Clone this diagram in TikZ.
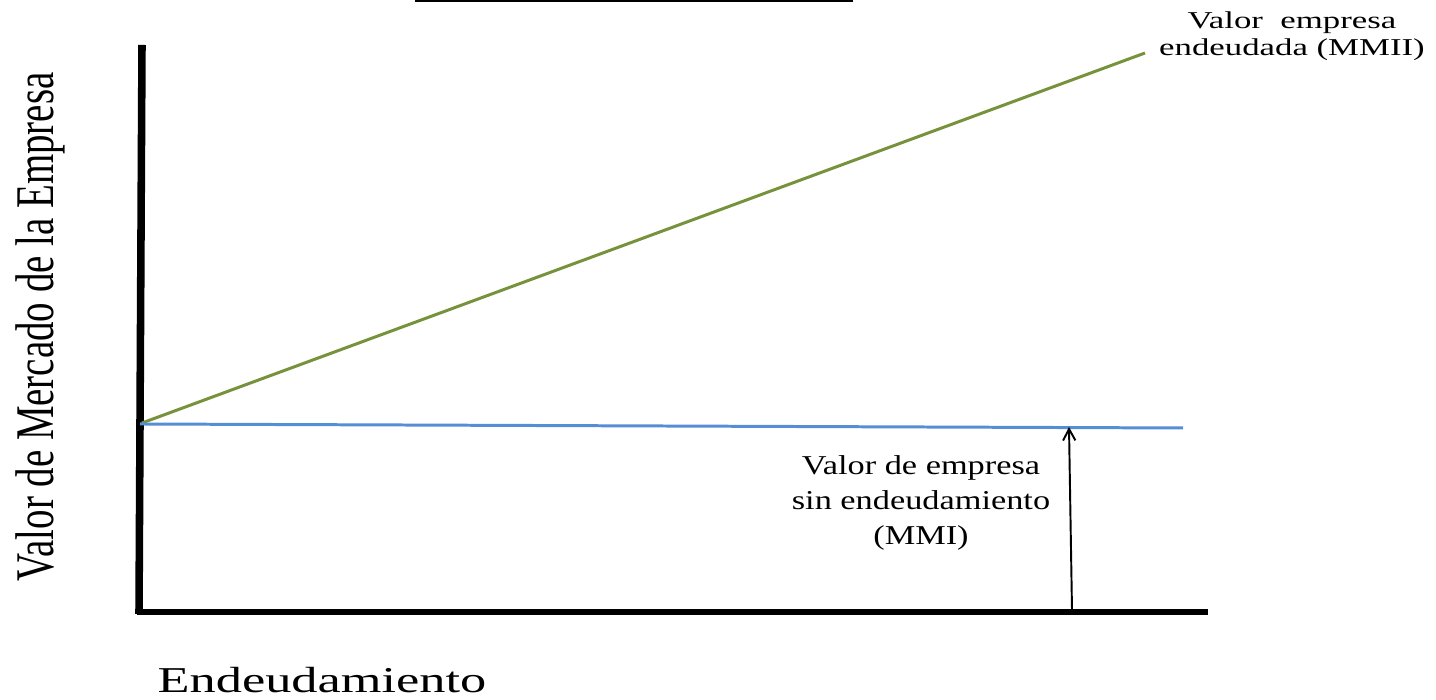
\documentclass[tikz,border=0pt]{standalone}
\usepackage{fontspec}
\setmainfont{Liberation Serif}
\newfontfamily\mmifont[FakeStretch=1.26]{Liberation Serif}
\newfontfamily\mmiifont[FakeStretch=1.44]{Liberation Serif}
\newfontfamily\debtfont[FakeStretch=1.44]{Liberation Serif}
\newfontfamily\valuefont[FakeStretch=0.714]{Liberation Serif}
\usetikzlibrary{arrows.meta, positioning}

\definecolor{levgreen}{RGB}{118,146,60}
\definecolor{unlevblue}{RGB}{85,142,213}

\tikzset{
  axis/.style={line width=4.3pt},
  curve/.style={line width=1.7pt},
  lbl/.style={inner sep=0pt, align=center}
}

\begin{document}
\begin{tikzpicture}[x=0.2mm, y=0.2mm]
  \useasboundingbox (0,0) rectangle (1436,700);
  % axes
  \coordinate (Ytop) at (142,655);
  \coordinate (Ybot) at (139,86);
  \coordinate (O) at (137,88);
  \coordinate (Xend) at (1208,88);
  \draw [axis] (Ytop) -- (Ybot);
  \draw [axis, line width=3.8pt] (O) -- (Xend);
  % title rule, cut off at the top
  \coordinate (T1) at (415,699);
  \coordinate (T2) at (853,699);
  \draw [line width=1.2pt] (T1) -- (T2);
  % value lines
  \coordinate (G0) at (142,277);
  \coordinate (G1) at (1145,647);
  \coordinate (B0) at (140,276);
  \coordinate (B1) at (1183,272);
  \coordinate (A0) at (1072,90);
  \coordinate (A1) at (1069,273);
  \draw [curve, levgreen] (G0) -- (G1);
  \draw [curve, unlevblue] (B0) -- (B1);
  \draw [line width=1.1pt, -{Straight Barb[length=6.5pt, width=7pt]}] (A0) -- (A1);
  % labels
  \node [lbl, font=\mmiifont\fontsize{13.75}{15.4}\selectfont] (mmii) at (1292,664) {Valor\ \ empresa\\endeudada (MMII)};
  \node [lbl, font=\mmifont\fontsize{15.5}{20}\selectfont] (mmi) at (921,197) {Valor de empresa\\sin endeudamiento\\(MMI)};
  \node [lbl, font=\debtfont\fontsize{20.7}{24}\selectfont, anchor=base] (debt) at (322,7) {Endeudamiento};
  \node [lbl, font=\valuefont\fontsize{31}{36}\selectfont, rotate=90, anchor=base] (value) at (53,373) {Valor de Mercado de la Empresa};
\end{tikzpicture}
\end{document}
